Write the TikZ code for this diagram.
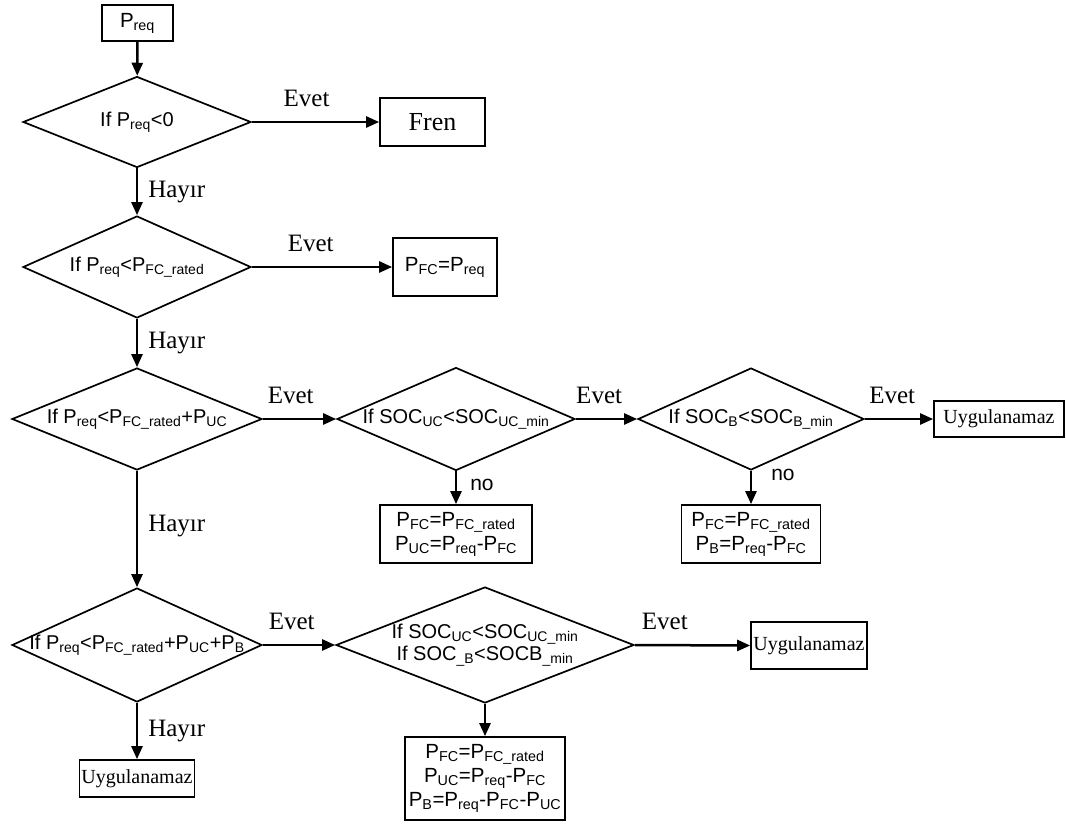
\documentclass[tikz,border=0pt]{standalone}
\usepackage{fontspec}
\setmainfont{Liberation Serif}
\setsansfont{Liberation Sans}
\usepackage{tikz}
\usetikzlibrary{shapes.geometric, arrows.meta}
\newlength\flowwidth
\setlength\flowwidth{2.5pt}
\newlength\framewidth
\setlength\framewidth{1.7pt}
\newcommand\sub[1]{\textsubscript{#1}}
\newcommand\flattext[1]{\makebox[0pt]{#1}}
\tikzset{
  flowline/.style={line width=\flowwidth, -{Triangle[length=13pt, width=11pt]}},
  decision/.style={diamond, draw, line width=\framewidth, inner sep=0pt,
    font=\sffamily\fontsize{20}{22}\selectfont},
  result/.style={rectangle, draw, line width=\framewidth, inner sep=0pt,
    align=center, font=\sffamily\fontsize{20.5}{24}\selectfont},
  verdict/.style={rectangle, draw, line width=\framewidth, inner sep=0pt,
    font=\fontsize{20}{24}\selectfont},
  yeslabel/.style={above=14pt, inner sep=0pt, font=\fontsize{25}{30}\selectfont},
  nolabel/.style={right=10pt, inner sep=0pt, font=\fontsize{25}{30}\selectfont},
  sublabel/.style={right=#1, inner sep=0pt, font=\sffamily\fontsize{21}{25}\selectfont},
}

\begin{document}
\begin{tikzpicture}[x=1pt, y=-1pt]
\useasboundingbox (0,0) rectangle (1066,825);
% boxes and decisions
\node[result, minimum width=71pt, minimum height=36pt] (preq) at (137.5,23) {P\sub{req}};
\node[decision, minimum width=228pt, minimum height=91pt] (neg) at (137,122) {\flattext{If P\sub{req}<0}};
\node[verdict, minimum width=105pt, minimum height=48pt, font=\fontsize{26}{30}\selectfont] (fren) at (432.5,122) {Fren};
\node[decision, minimum width=228pt, minimum height=102pt] (fcrated) at (137,267) {\flattext{If P\sub{req}<P\sub{FC\_rated}}};
\node[result, minimum width=104pt, minimum height=58pt] (fconly) at (445,267) {P\sub{FC}=P\sub{req}};
\node[decision, minimum width=250pt, minimum height=102pt] (fcuc) at (137,419) {\flattext{If P\sub{req}<P\sub{FC\_rated}+P\sub{UC}}};
\node[decision, minimum width=238pt, minimum height=103pt] (socuc) at (456,419) {\flattext{If SOC\sub{UC}<SOC\sub{UC\_min}}};
\node[decision, minimum width=226pt, minimum height=102pt] (socb) at (751,419) {\flattext{If SOC\sub{B}<SOC\sub{B\_min}}};
\node[verdict, minimum width=130pt, minimum height=36pt] (failb) at (999,419) {Uygulanamaz};
\node[result, minimum width=152pt, minimum height=58pt] (ucmix) at (456,534)
  {P\sub{FC}=P\sub{FC\_rated}\\P\sub{UC}=P\sub{req}-P\sub{FC}};
\node[result, minimum width=139pt, minimum height=58pt] (bmix) at (751,534)
  {P\sub{FC}=P\sub{FC\_rated}\\P\sub{B}=P\sub{req}-P\sub{FC}};
\node[decision, minimum width=250pt, minimum height=114pt] (fcucb) at (137,645)
  {\flattext{If P\sub{req}<P\sub{FC\_rated}+P\sub{UC}+P\sub{B}}};
\node[decision, minimum width=298pt, minimum height=116pt] (socall) at (485,645)
  {\flattext{\begin{tabular}{@{}c@{}}If SOC\sub{UC}<SOC\sub{UC\_min}\\If SOC\sub{\_B}<SOCB\sub{\_min}\end{tabular}}};
\node[verdict, minimum width=116pt, minimum height=47pt] (failall) at (809,645.5) {Uygulanamaz};
\node[result, minimum width=160pt, minimum height=83pt] (allmix) at (485,778.5)
  {P\sub{FC}=P\sub{FC\_rated}\\P\sub{UC}=P\sub{req}-P\sub{FC}\\P\sub{B}=P\sub{req}-P\sub{FC}-P\sub{UC}};
\node[verdict, minimum width=115pt, minimum height=37pt] (failnone) at (137,778.5) {Uygulanamaz};
% connectors
\draw[flowline] (preq) -- (neg);
\draw[flowline] (neg.east) -- node[yeslabel, pos=0.43] {Evet} (fren.west);
\draw[flowline] (neg.south) -- node[nolabel] {Hayır} (fcrated.north);
\draw[flowline] (fcrated.east) -- node[yeslabel, pos=0.42] {Evet} (fconly.west);
\draw[flowline] (fcrated.south) -- node[nolabel] {Hayır} (fcuc.north);
\draw[flowline] (fcuc.east) -- node[yeslabel, pos=0.38] {Evet} (socuc.west);
\draw[flowline] (socuc.east) -- node[yeslabel, pos=0.38] {Evet} (socb.west);
\draw[flowline] (socb.east) -- node[yeslabel, pos=0.4] {Evet} (failb.west);
\draw[flowline] (socuc.south) -- node[sublabel=13pt, pos=0.4] {no} (ucmix.north);
\draw[flowline] (socb.south) -- node[sublabel=19pt, pos=0.12] {no} (bmix.north);
\draw[flowline] (fcuc.south) -- node[nolabel, pos=0.47] {Hayır} (fcucb.north);
\draw[flowline] (fcucb.east) -- node[yeslabel, pos=0.4] {Evet} (socall.west);
\draw[flowline] (socall.east) -- node[yeslabel, pos=0.26] {Evet} (failall.west);
\draw[flowline] (socall.south) -- (allmix.north);
\draw[flowline] (fcucb.south) -- node[nolabel] {Hayır} (failnone.north);
\end{tikzpicture}
\end{document}
